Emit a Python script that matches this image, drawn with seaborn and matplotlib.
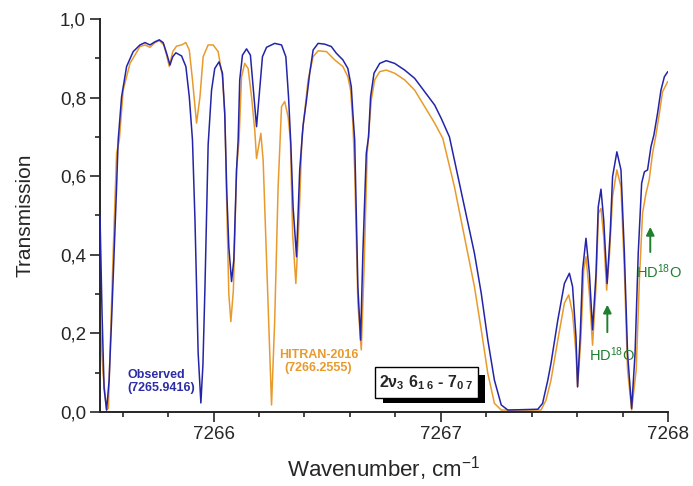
import numpy as np
import pandas as pd
import matplotlib
matplotlib.use("Agg")
import matplotlib.pyplot as plt
import seaborn as sns
from matplotlib.patches import Rectangle
from matplotlib.ticker import MultipleLocator, FuncFormatter

# ---------------- data ----------------
obs_wn = [7265.500, 7265.509, 7265.518, 7265.529, 7265.540, 7265.551, 7265.562, 7265.573,
          7265.580, 7265.595, 7265.617, 7265.646, 7265.676, 7265.698, 7265.720, 7265.742,
          7265.761, 7265.778, 7265.793, 7265.808, 7265.820, 7265.834, 7265.859, 7265.878,
          7265.893, 7265.907, 7265.918, 7265.932, 7265.944, 7265.953, 7265.962, 7265.976,
          7265.991, 7266.005, 7266.024, 7266.039, 7266.049, 7266.058, 7266.067, 7266.079,
          7266.089, 7266.101, 7266.108, 7266.115, 7266.127, 7266.145, 7266.162, 7266.174,
          7266.189, 7266.200, 7266.215, 7266.233, 7266.269, 7266.299, 7266.318, 7266.330,
          7266.340, 7266.350, 7266.365, 7266.379, 7266.394, 7266.408, 7266.423, 7266.438,
          7266.460, 7266.489, 7266.518, 7266.540, 7266.569, 7266.591, 7266.606, 7266.613,
          7266.621, 7266.635, 7266.647, 7266.657, 7266.672, 7266.682, 7266.691, 7266.706,
          7266.731, 7266.760, 7266.797, 7266.841, 7266.885, 7266.929, 7266.951, 7266.973,
          7267.002, 7267.038, 7267.060, 7267.104, 7267.148, 7267.178, 7267.207, 7267.236,
          7267.266, 7267.295, 7267.427, 7267.448, 7267.471, 7267.485, 7267.515, 7267.544,
          7267.566, 7267.580, 7267.595, 7267.602, 7267.614, 7267.624, 7267.639, 7267.654,
          7267.668, 7267.683, 7267.693, 7267.705, 7267.717, 7267.732, 7267.746, 7267.756,
          7267.775, 7267.793, 7267.808, 7267.822, 7267.840, 7267.855, 7267.869, 7267.884,
          7267.896, 7267.910, 7267.925, 7267.938, 7267.954, 7267.969, 7267.984, 7267.999]
obs_tr = [0.500, 0.250, 0.060, 0.005, 0.080, 0.234, 0.400, 0.573,
          0.692, 0.802, 0.879, 0.917, 0.934, 0.940, 0.934, 0.942,
          0.947, 0.940, 0.913, 0.883, 0.904, 0.914, 0.906, 0.879,
          0.802, 0.692, 0.489, 0.150, 0.023, 0.120, 0.318, 0.680,
          0.819, 0.874, 0.891, 0.862, 0.760, 0.560, 0.420, 0.332,
          0.387, 0.616, 0.692, 0.845, 0.908, 0.924, 0.908, 0.828,
          0.726, 0.802, 0.904, 0.928, 0.938, 0.934, 0.904, 0.800,
          0.680, 0.520, 0.395, 0.616, 0.730, 0.790, 0.862, 0.921,
          0.938, 0.936, 0.930, 0.913, 0.896, 0.874, 0.828, 0.760,
          0.692, 0.319, 0.183, 0.404, 0.658, 0.700, 0.802, 0.862,
          0.887, 0.894, 0.887, 0.870, 0.849, 0.815, 0.798, 0.781,
          0.747, 0.700, 0.641, 0.522, 0.404, 0.302, 0.183, 0.081,
          0.018, 0.005, 0.007, 0.022, 0.081, 0.124, 0.234, 0.327,
          0.353, 0.319, 0.190, 0.064, 0.200, 0.361, 0.442, 0.353,
          0.209, 0.350, 0.522, 0.567, 0.489, 0.327, 0.460, 0.599,
          0.662, 0.616, 0.404, 0.149, 0.009, 0.149, 0.404, 0.582,
          0.611, 0.616, 0.675, 0.705, 0.760, 0.819, 0.853, 0.866]

hit_wn = [7265.500, 7265.513, 7265.529, 7265.537, 7265.544, 7265.558, 7265.573, 7265.585,
          7265.602, 7265.632, 7265.676, 7265.698, 7265.720, 7265.742, 7265.761, 7265.781,
          7265.793, 7265.805, 7265.820, 7265.837, 7265.859, 7265.878, 7265.893, 7265.907,
          7265.925, 7265.940, 7265.954, 7265.976, 7265.998, 7266.020, 7266.039, 7266.050,
          7266.057, 7266.067, 7266.076, 7266.087, 7266.101, 7266.112, 7266.123, 7266.137,
          7266.152, 7266.167, 7266.181, 7266.189, 7266.208, 7266.218, 7266.232, 7266.247,
          7266.255, 7266.269, 7266.284, 7266.299, 7266.313, 7266.328, 7266.338, 7266.348,
          7266.362, 7266.376, 7266.389, 7266.400, 7266.416, 7266.438, 7266.460, 7266.497,
          7266.533, 7266.569, 7266.591, 7266.603, 7266.613, 7266.621, 7266.635, 7266.650,
          7266.662, 7266.676, 7266.694, 7266.709, 7266.731, 7266.760, 7266.797, 7266.841,
          7266.885, 7266.929, 7266.951, 7266.973, 7267.009, 7267.060, 7267.104, 7267.148,
          7267.178, 7267.207, 7267.236, 7267.266, 7267.441, 7267.463, 7267.485, 7267.515,
          7267.544, 7267.563, 7267.580, 7267.595, 7267.602, 7267.617, 7267.629, 7267.639,
          7267.654, 7267.668, 7267.683, 7267.694, 7267.705, 7267.717, 7267.730, 7267.743,
          7267.756, 7267.775, 7267.793, 7267.808, 7267.822, 7267.840, 7267.860, 7267.874,
          7267.888, 7267.903, 7267.917, 7267.932, 7267.947, 7267.962, 7267.976, 7267.999]
hit_tr = [0.240, 0.100, 0.005, 0.010, 0.150, 0.405, 0.659, 0.692,
          0.819, 0.887, 0.930, 0.934, 0.928, 0.940, 0.945, 0.934,
          0.908, 0.879, 0.917, 0.931, 0.934, 0.940, 0.921, 0.845,
          0.735, 0.802, 0.904, 0.934, 0.934, 0.917, 0.853, 0.750,
          0.550, 0.300, 0.230, 0.310, 0.616, 0.692, 0.853, 0.887,
          0.874, 0.802, 0.718, 0.645, 0.709, 0.641, 0.404, 0.149,
          0.018, 0.234, 0.573, 0.777, 0.790, 0.751, 0.692, 0.450,
          0.327, 0.489, 0.700, 0.760, 0.845, 0.904, 0.919, 0.917,
          0.896, 0.879, 0.853, 0.819, 0.735, 0.616, 0.277, 0.158,
          0.361, 0.658, 0.794, 0.845, 0.866, 0.870, 0.862, 0.845,
          0.819, 0.777, 0.756, 0.735, 0.696, 0.573, 0.446, 0.319,
          0.209, 0.098, 0.022, 0.005, 0.005, 0.030, 0.081, 0.183,
          0.277, 0.298, 0.251, 0.150, 0.064, 0.190, 0.361, 0.395,
          0.300, 0.170, 0.319, 0.506, 0.518, 0.446, 0.310, 0.405,
          0.548, 0.616, 0.573, 0.361, 0.107, 0.005, 0.107, 0.336,
          0.506, 0.556, 0.590, 0.658, 0.705, 0.760, 0.815, 0.841]

x_ticks = [7266, 7267, 7268]
y_ticks = [0.0, 0.2, 0.4, 0.6, 0.8, 1.0]

obs = pd.DataFrame({"wn": obs_wn, "T": obs_tr})
hit = pd.DataFrame({"wn": hit_wn, "T": hit_tr})

# ---------------- style ----------------
sns.set_style("ticks")
plt.rcParams["font.family"] = ["Liberation Sans", "DejaVu Sans"]
plt.rcParams["mathtext.fontset"] = "custom"
plt.rcParams["mathtext.rm"] = "Liberation Sans"
plt.rcParams["mathtext.it"] = "Liberation Sans:italic"
plt.rcParams["mathtext.bf"] = "Liberation Sans:bold"

BLUE = "#2424A8"
ORANGE = "#E99A2C"
GREEN = "#1E7F2E"

fig = plt.figure(figsize=(6.93, 4.86), dpi=100)
ax = fig.add_axes([100 / 693, 1 - 412 / 486, 568 / 693, 393 / 486])

sns.lineplot(data=obs, x="wn", y="T", ax=ax, sort=False, estimator=None,
             color=BLUE, lw=1.1, zorder=3)
sns.lineplot(data=hit, x="wn", y="T", ax=ax, sort=False, estimator=None,
             color=ORANGE, lw=1.1, zorder=2)

ax.set_xlim(7265.5, 7268.0)
ax.set_ylim(0.0, 1.0)
ax.set_xticks(x_ticks)
ax.set_yticks(y_ticks)
ax.xaxis.set_minor_locator(MultipleLocator(0.2))
ax.yaxis.set_minor_locator(MultipleLocator(0.1))
ax.yaxis.set_major_formatter(FuncFormatter(lambda v, p: f"{v:.1f}".replace(".", ",")))
ax.xaxis.set_major_formatter(FuncFormatter(lambda v, p: f"{v:.0f}"))
ax.tick_params(which="major", direction="out", length=7, width=1.2, labelsize=13.5, pad=3)
ax.tick_params(which="minor", direction="out", length=3.5, width=1.2)
for s in ["top", "right"]:
    ax.spines[s].set_visible(False)
for s in ["left", "bottom"]:
    ax.spines[s].set_linewidth(1.4)

ax.set_xlabel("Wavenumber, cm$^{-1}$", fontsize=16, labelpad=8)
ax.set_ylabel("Transmission", fontsize=15, labelpad=18)

# annotations
ax.text(7265.619, 0.078, "Observed\n(7265.9416)", color="#2C2CA8", fontsize=9,
        fontweight="bold", ha="left", va="center", linespacing=1.15)
ax.text(7266.462, 0.128, "HITRAN-2016\n(7266.2555)", color=ORANGE, fontsize=9,
        fontweight="bold", ha="center", va="center", linespacing=1.15, multialignment="center")

ax.annotate("", xy=(7267.733, 0.280), xytext=(7267.733, 0.196),
            arrowprops=dict(arrowstyle="-|>", color=GREEN, lw=1.4, mutation_scale=12))
ax.text(7267.751, 0.145, "HD$^{18}$O", color=GREEN, fontsize=10.5, ha="center", va="center")
ax.annotate("", xy=(7267.922, 0.478), xytext=(7267.922, 0.400),
            arrowprops=dict(arrowstyle="-|>", color=GREEN, lw=1.4, mutation_scale=12))
ax.text(7267.962, 0.356, "HD$^{18}$O", color=GREEN, fontsize=10.5, ha="center", va="center")

# labelled box with shadow
fig.patches.append(Rectangle((383 / 693, 1 - 403 / 486), 102 / 693, 28 / 486,
                             transform=fig.transFigure, facecolor="black",
                             edgecolor="none", zorder=5))
fig.patches.append(Rectangle((375 / 693, 1 - 398 / 486), 103 / 693, 31 / 486,
                             transform=fig.transFigure, facecolor="white",
                             edgecolor="black", lw=1.0, zorder=6))
fig.text(426.5 / 693, 1 - 383 / 486,
         r"$\mathbf{2\nu_{3}\ 6_{1\ 6}}$ - $\mathbf{7_{0\ 7}}$",
         fontsize=11.5, fontweight="bold", ha="center", va="center", zorder=7)

fig.savefig("out.png", dpi=100)
